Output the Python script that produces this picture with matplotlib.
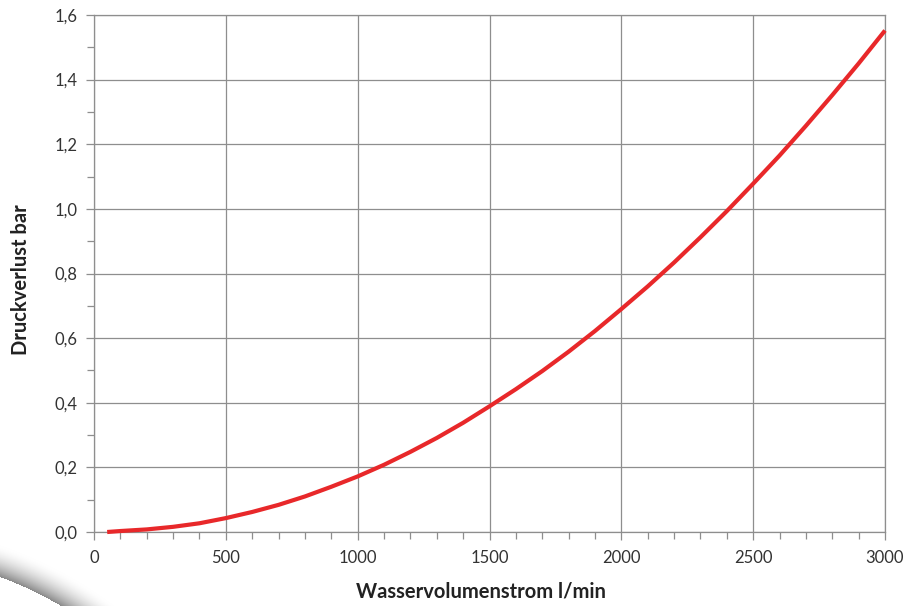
import numpy as np
import matplotlib
matplotlib.use("Agg")
import matplotlib.pyplot as plt
from matplotlib.ticker import MultipleLocator, FuncFormatter

# Data
flow_lpm = [50, 100, 200, 300, 400, 500, 600, 700, 800, 900, 1000,
            1100, 1200, 1300, 1400, 1500, 1600, 1700, 1800, 1900, 2000,
            2100, 2200, 2300, 2400, 2500, 2600, 2700, 2800, 2900, 3000]
pressure_bar = [0.0, 0.003, 0.008, 0.016, 0.027, 0.043, 0.062, 0.084, 0.110, 0.140, 0.172,
                0.208, 0.248, 0.291, 0.338, 0.389, 0.442, 0.498, 0.558, 0.622, 0.690,
                0.760, 0.834, 0.912, 0.993, 1.078, 1.165, 1.257, 1.352, 1.450, 1.552]

x_ticks = [0, 500, 1000, 1500, 2000, 2500, 3000]
y_ticks = [0.0, 0.2, 0.4, 0.6, 0.8, 1.0, 1.2, 1.4, 1.6]
x_label = "Wasservolumenstrom l/min"
y_label = "Druckverlust bar"

plt.rcParams['font.family'] = ['Lato', 'DejaVu Sans']

W, H = 906, 606
fig = plt.figure(figsize=(W / 100, H / 100), dpi=100)

# decorative grey swoosh in lower-left corner
bg = fig.add_axes([0, 0, 1, 1], zorder=0)
bg.set_axis_off()
yy, xx = np.mgrid[0:H, 0:W]
cx, cy = -131.6, 931.0
r = np.hypot(xx - cx, yy - cy)
r_in, r_out = 378.0, 408.0
t = np.clip((r_out - r) / (r_out - r_in), 0, 1)
band = (r >= r_in) & (r <= r_out)
gray = 1.0 - 0.46 * t ** 1.8
img = np.ones((H, W, 3))
for c in range(3):
    img[..., c] = np.where(band, gray, 1.0)
bg.imshow(img, extent=[0, W, H, 0], aspect='auto', interpolation='bilinear')
bg.set_xlim(0, W)
bg.set_ylim(H, 0)

ax = fig.add_axes([94 / W, 1 - 532 / H, (885 - 94) / W, (532 - 15) / H], zorder=1)
ax.set_facecolor('none')

ax.plot(flow_lpm, pressure_bar, color='#e8282a', lw=3.0, solid_capstyle='butt',
        solid_joinstyle='round', zorder=3, clip_on=False)

ax.set_xlim(0, 3000)
ax.set_ylim(0, 1.6)
ax.set_xticks(x_ticks)
ax.set_yticks(y_ticks)
ax.xaxis.set_minor_locator(MultipleLocator(100))
ax.yaxis.set_minor_locator(MultipleLocator(0.1))
ax.yaxis.set_major_formatter(FuncFormatter(lambda v, p: f"{v:.1f}".replace('.', ',')))
ax.xaxis.set_major_formatter(FuncFormatter(lambda v, p: f"{int(round(v))}"))

gcol = '#8e8e8e'
ax.grid(True, which='major', color=gcol, lw=0.9)
ax.set_axisbelow(True)
for s in ax.spines.values():
    s.set_color(gcol)
    s.set_linewidth(0.9)
ax.tick_params(which='both', direction='out', color=gcol, width=0.9, labelcolor='#333333',
               labelsize=12)
ax.tick_params(which='major', length=6)
ax.tick_params(which='minor', length=5)
ax.tick_params(axis='x', pad=7)
ax.tick_params(axis='y', pad=6)

ax.set_xlabel(x_label, fontsize=14.5, fontweight='bold', color='#222222', va='center')
ax.xaxis.set_label_coords((480.5 - 94) / 791, (532 - 591) / 517)
ax.set_ylabel(y_label, fontsize=14.5, fontweight='bold', color='#222222', va='center')
ax.yaxis.set_label_coords((21 - 94) / 791, (532 - 280) / 517)

fig.savefig('out.png', dpi=100)
